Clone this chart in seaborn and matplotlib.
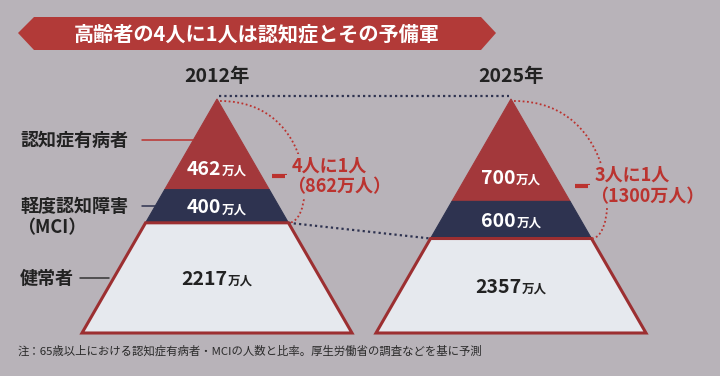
import numpy as np
import pandas as pd
import matplotlib
matplotlib.use("Agg")
import matplotlib.pyplot as plt
import seaborn as sns
from matplotlib.path import Path
from matplotlib.patches import PathPatch, Polygon

# ---------------- data ----------------
title = "高齢者の4人に1人は認知症とその予備軍"
years = ["2012年", "2025年"]
categories = ["認知症有病者", "軽度認知障害", "（MCI）", "健常者"]
dementia = [462, 700]
mci = [400, 600]
healthy = [2217, 2357]
ratio_text = ["4人に1人", "3人に1人"]
unit = "万人"
note = "注：65歳以上における認知症有病者・MCIの人数と比率。厚生労働省の調査などを基に予測"

# ---------------- style ----------------
sns.set_theme(style="white")
plt.rcParams['font.family'] = ['Noto Sans CJK JP', 'DejaVu Sans']

BG = "#b8b3b9"
RED = "#a3383b"
NAVY = "#2e3350"
LIGHT = "#e6e9ee"
EDGE = "#9c2f31"
TXTRED = "#bb332f"
BANNER = "#b23a38"
DARK = "#222222"

fig = plt.figure(figsize=(7.2, 3.76), dpi=100, facecolor=BG)
ax = fig.add_axes([0, 0, 1, 1])
ax.set_facecolor(BG)

centers = [217, 511]
apex_y, base_y, half_base = 99, 333, 135
H = base_y - apex_y


def hw(depth):
    return half_base * depth / H


geo = []
for i, cx in enumerate(centers):
    total = dementia[i] + mci[i] + healthy[i]
    d1 = H * np.sqrt(dementia[i] / total)
    d2 = H * np.sqrt((dementia[i] + mci[i]) / total)
    y1, y2 = apex_y + d1, apex_y + d2
    w1, w2 = hw(d1), hw(d2)
    geo.append(dict(cx=cx, y1=y1, y2=y2, w1=w1, w2=w2, d1=d1, d2=d2))
    ax.add_patch(Polygon([(cx, apex_y), (cx + w1, y1), (cx - w1, y1)],
                         closed=True, facecolor=RED, edgecolor=RED, lw=0.8, zorder=2))
    ax.add_patch(Polygon([(cx - w1, y1), (cx + w1, y1), (cx + w2, y2), (cx - w2, y2)],
                         closed=True, facecolor=NAVY, edgecolor=NAVY, lw=0.8, zorder=2))
    ax.add_patch(Polygon([(cx - w2, y2), (cx + w2, y2), (cx + half_base, base_y),
                          (cx - half_base, base_y)],
                         closed=True, facecolor=LIGHT, edgecolor=EDGE, lw=2.2,
                         joinstyle='miter', zorder=2))

# navy dotted connectors (seaborn)
g0, g1 = geo
conn = pd.DataFrame({
    "x": [g0["cx"] + 2, g1["cx"] - 2, g0["cx"] + g0["w2"], g1["cx"] - g1["w2"]],
    "y": [apex_y - 3, apex_y - 3, g0["y2"], g1["y2"]],
    "seg": [0, 0, 1, 1],
})
sns.lineplot(data=conn, x="x", y="y", units="seg", estimator=None, sort=False,
             color=NAVY, lw=1.6, linestyle=(0, (1, 1.4)), ax=ax, zorder=1)

# red dotted arcs, dash and ratio text
for i, g in enumerate(geo):
    cx = g["cx"]
    cxr = cx + g["w2"]
    a = g["w2"] + 28
    verts = [(cx + 3, apex_y + 2), (cx + a, apex_y + 2), (cx + a, g["y2"]), (cxr, g["y2"])]
    path = Path(verts, [Path.MOVETO, Path.CURVE4, Path.CURVE4, Path.CURVE4])
    ax.add_patch(PathPatch(path, facecolor='none', edgecolor=TXTRED, lw=1.3,
                           linestyle=(0, (1, 1.4)), zorder=3))
    dash_y = apex_y + 0.62 * g["d2"]
    ax.plot([cxr - 16, cxr - 1], [dash_y, dash_y], color=TXTRED, lw=3.0,
            solid_capstyle='butt', zorder=4)
    bb = dict(facecolor=BG, edgecolor='none', pad=1.5)
    ax.text(cxr + 3, dash_y - 10, ratio_text[i], color=TXTRED, fontsize=13,
            fontweight='bold', ha='left', va='center', bbox=bb, zorder=5)
    ax.text(cxr - 1, dash_y + 11, f"（{dementia[i] + mci[i]}{unit}）", color=TXTRED,
            fontsize=13, fontweight='bold', ha='left', va='center', bbox=bb, zorder=5)

# value labels
pairs = []
for i, g in enumerate(geo):
    cx = g["cx"]
    ys = [apex_y + 0.76 * g["d1"], (g["y1"] + g["y2"]) / 2, (g["y2"] + base_y) / 2]
    vals = [dementia[i], mci[i], healthy[i]]
    cols = ["white", "white", DARK]
    for y, v, c in zip(ys, vals, cols):
        t1 = ax.text(cx, y + 7, str(v), fontsize=14, fontweight='bold', color=c,
                     ha='left', va='baseline', zorder=6)
        t2 = ax.text(cx, y + 7, unit, fontsize=9, fontweight='bold', color=c,
                     ha='left', va='baseline', zorder=6)
        pairs.append((cx, t1, t2))

# year labels
for cx, yr in zip(centers, years):
    ax.text(cx, 77, yr, fontsize=14, fontweight='bold', color=DARK, ha='center', va='center')

# left labels with leader lines
g = geo[0]
cx = g["cx"]
y_red = apex_y + 0.45 * g["d1"]
y_navy = (g["y1"] + g["y2"]) / 2
y_h = (g["y2"] + base_y) / 2
ax.text(20, y_red + 1, categories[0], fontsize=13, fontweight='bold', color=DARK,
        ha='left', va='center')
ax.plot([142, cx - hw(y_red - apex_y)], [y_red, y_red], color=TXTRED, lw=1.1)
ax.text(20, y_navy, categories[1], fontsize=13, fontweight='bold', color=DARK,
        ha='left', va='center')
ax.text(17, y_navy + 21, categories[2], fontsize=13, fontweight='bold', color=DARK,
        ha='left', va='center')
ax.plot([142, cx - hw(y_navy - apex_y)], [y_navy, y_navy], color=NAVY, lw=1.1)
ax.text(20, y_h + 1, categories[3], fontsize=13, fontweight='bold', color=DARK,
        ha='left', va='center')
ax.plot([80, cx - hw(y_h - apex_y) - 5], [y_h, y_h], color="#333333", lw=1.1)

# title banner
ax.add_patch(Polygon([(18, 33), (34, 17), (481, 17), (496, 33), (481, 50), (34, 50)],
                     closed=True, facecolor=BANNER, edgecolor='none', zorder=2))
ax.text(257, 34, title, fontsize=14.5, fontweight='bold', color='white',
        ha='center', va='center', zorder=3)

# note
ax.text(18, 351, note, fontsize=8.2, color="#2a2a2a", ha='left', va='center')

ax.set_xlim(0, 720)
ax.set_ylim(376, 0)
ax.axis('off')

# center number+unit pairs
fig.canvas.draw()
for cx, t1, t2 in pairs:
    w1 = t1.get_window_extent().width
    w2 = t2.get_window_extent().width
    left = cx - (w1 + w2 + 1) / 2
    x1, y = t1.get_position()
    t1.set_position((left, y))
    t2.set_position((left + w1 + 1, y))

fig.savefig("out.png", dpi=100, facecolor=BG)
